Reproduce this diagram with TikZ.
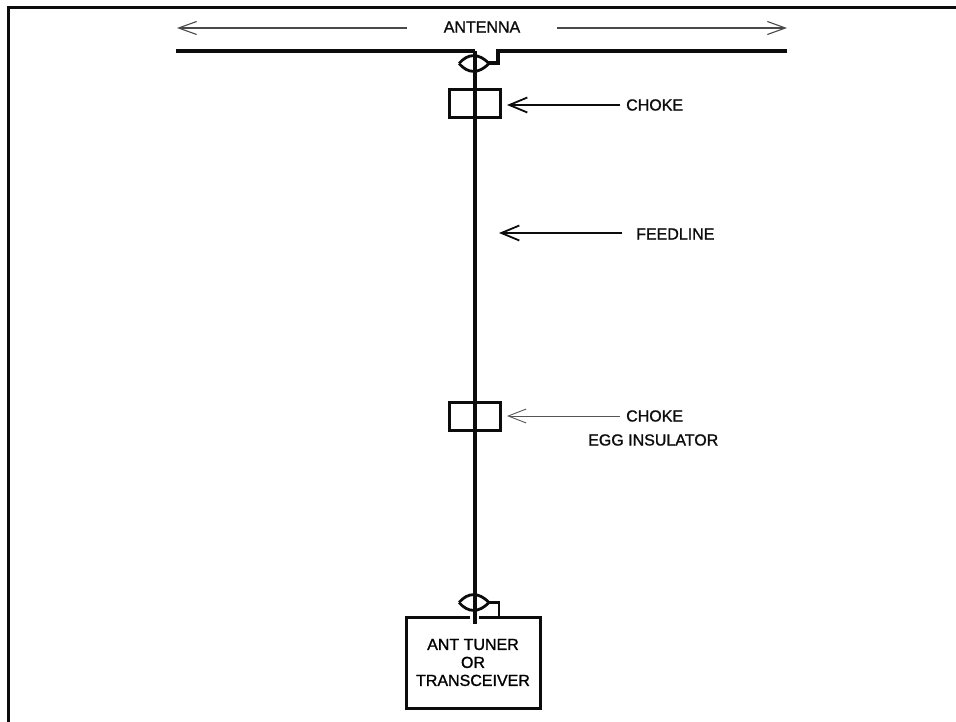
\documentclass[tikz,border=0pt]{standalone}
\usepackage{fontspec}
\setmainfont{Liberation Sans}
\newfontfamily\tagfont[FakeBold=1.2]{Liberation Sans}
\usetikzlibrary{
  arrows.meta,
  positioning,
  calc
}
\definecolor{isWire}{HTML}{0C0C0C}
\definecolor{isThin}{HTML}{555555}
\tikzset{
  wire/.style={line width=3.05pt, isWire},
  lead/.style={line width=2.8pt, isWire},
  framing/.style={line width=3pt, isWire},
  chokebox/.style={draw=isWire, line width=3pt, minimum width=51pt, minimum height=28pt, inner sep=0pt},
  tunerbox/.style={draw=isWire, line width=3pt, minimum width=134pt, minimum height=91pt, inner sep=0pt,
    font=\tagfont\fontsize{16}{18}\selectfont, align=center},
  tag/.style={font=\tagfont\fontsize{16}{18}\selectfont, inner sep=0pt, text=isWire},
  pointer/.style={-{Straight Barb[length=18pt, width=15pt]}, line width=1.8pt, isWire},
  spanarrow/.style={-{Straight Barb[length=18pt, width=13pt]}, line width=1.1pt, isWire!75},
  thinarrow/.style={-{Straight Barb[length=18pt, width=14pt]}, line width=0.9pt, isThin}
}
\begin{document}
\begin{tikzpicture}[x=1pt, y=-1pt]
  \useasboundingbox (0,0) rectangle (956,722);
  % page frame
  \coordinate (fa) at (8,722);
  \coordinate (fb) at (8,8);
  \coordinate (fc) at (956,8);
  \draw[framing] (fa) -- (fb) -- (fc);

  % antenna wires
  \coordinate (antl) at (176,51);
  \coordinate (antr) at (787,51);
  \coordinate (feedtop) at (475,51);
  \coordinate (bend) at (498,51);
  \draw[wire] (antl) -- (feedtop);
  \draw[wire] (antr) -- (bend) |- (488,63);

  % upper lens
  \coordinate (lensal) at (459,63.5);
  \coordinate (lensar) at (489,63.5);
  \draw[lead] (lensal) .. controls (468,53) and (479,53) .. (lensar);
  \draw[lead] (lensal) .. controls (468,74) and (479,74) .. (lensar);

  % chokes and tuner
  \node[chokebox] (chokea) at (474.5,104) {};
  \node[chokebox] (chokeb) at (474.5,416.5) {};
  \node[tunerbox] (tuner) at (473,662.5) {ANT TUNER\\OR\\TRANSCEIVER};

  % feedline
  \coordinate (feedend) at (475,624);
  \fill[white] (470,612) rectangle (479,620);
  \draw[wire] (feedtop) -- (feedend);

  % lower lens
  \coordinate (lensbl) at (459,602.5);
  \coordinate (lensbr) at (489,602.5);
  \draw[lead] (lensbl) .. controls (468,592) and (479,592) .. (lensbr);
  \draw[lead] (lensbl) .. controls (468,613) and (479,613) .. (lensbr);
  \coordinate (leadb) at (499,602.5);
  \draw[lead] (lensbr) -- (leadb) -- (tuner.north -| leadb);

  % labels
  \node[tag] (anttag) at (482,27) {ANTENNA};
  \node[tag, anchor=west] (chokeatag) at (626,105) {CHOKE};
  \node[tag, anchor=west] (feedtag) at (636,234) {FEEDLINE};
  \node[tag, anchor=west] (chokebtag) at (626,416) {CHOKE};
  \node[tag, anchor=west] (eggtag) at (588,440) {EGG INSULATOR};

  % arrows
  \coordinate (spanl) at (407,28);
  \coordinate (spanr) at (557,28);
  \coordinate (spanlend) at (177,28);
  \coordinate (spanrend) at (787,28);
  \draw[spanarrow] (spanl) -- (spanlend);
  \draw[spanarrow] (spanr) -- (spanrend);
  \coordinate (ptra) at (620,105);
  \coordinate (ptrb) at (622,233);
  \coordinate (ptrc) at (620,416);
  \draw[pointer] (ptra) -- (507,105);
  \draw[pointer] (ptrb) -- (499,233);
  \draw[thinarrow] (ptrc) -- (507,416);
\end{tikzpicture}
\end{document}
